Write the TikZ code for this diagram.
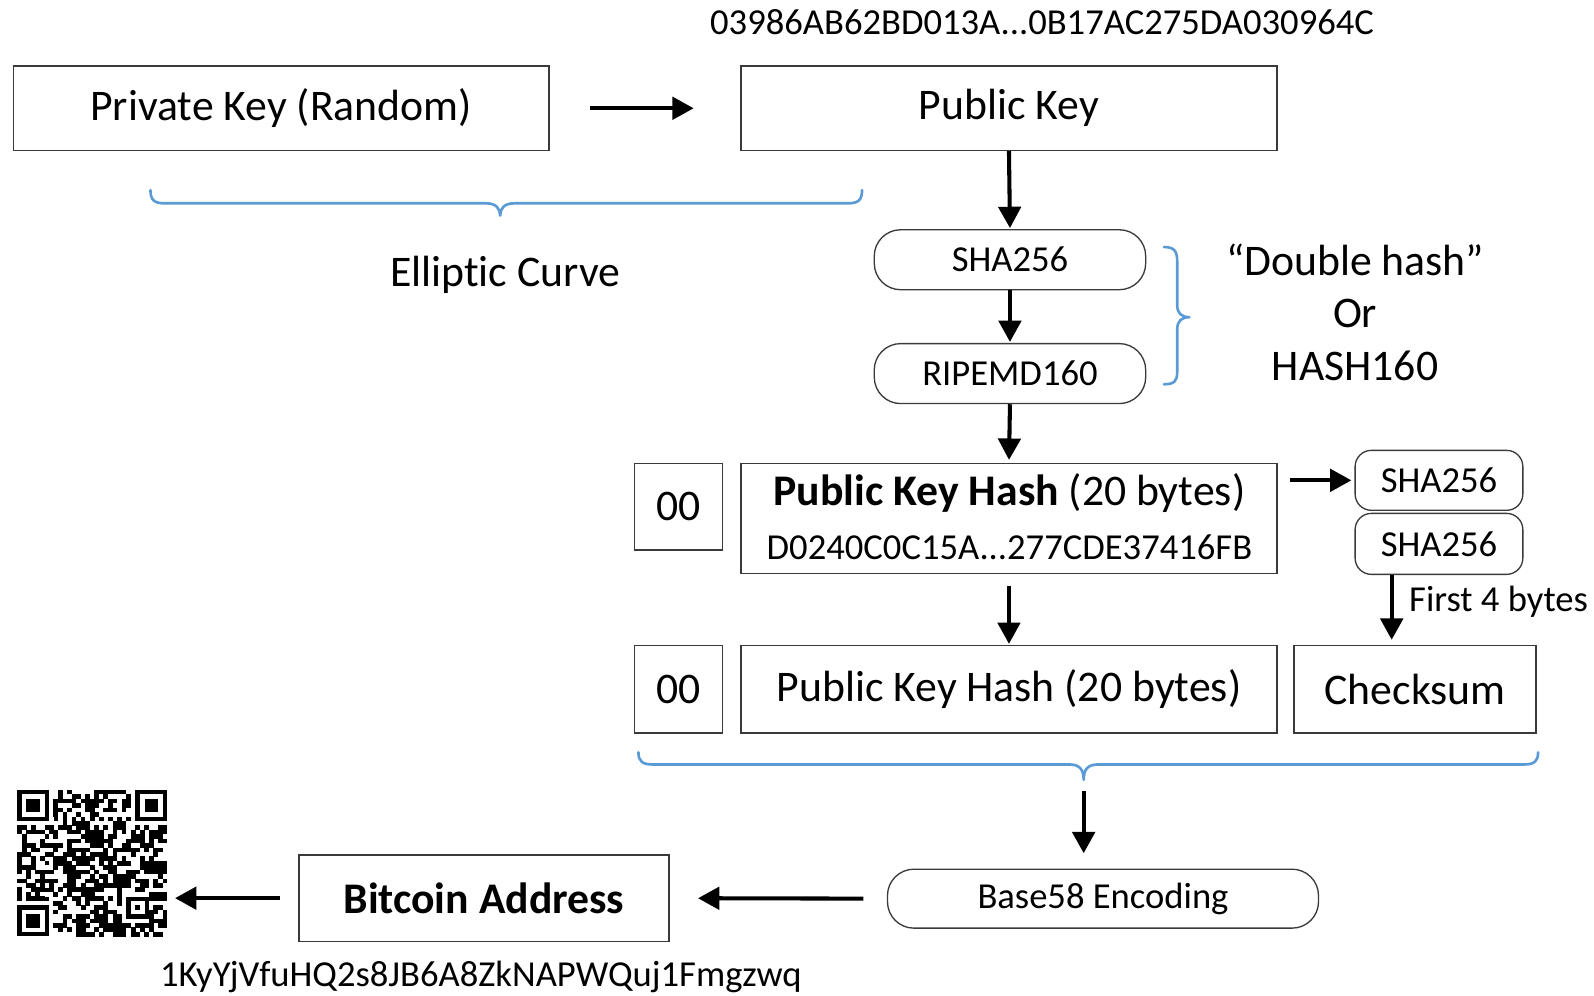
\documentclass[tikz,border=0pt]{standalone}
\usepackage{fontspec}
\setmainfont{Carlito}[Ligatures=NoCommon]
\usetikzlibrary{arrows.meta,calc}
\definecolor{boxline}{HTML}{3A3A3A}
\definecolor{braceblue}{HTML}{5B9BD5}
\begin{document}
\begin{tikzpicture}[x=1pt,y=-1pt,
  big/.style={font=\fontsize{43}{52}\selectfont},
  small/.style={font=\fontsize{36}{43}\selectfont},
  plainbox/.style={draw=boxline,line width=1.3pt,fill=white,inner sep=0pt},
  roundbox/.style={plainbox,rounded corners=26pt},
  pillbox/.style={plainbox,rounded corners=16pt},
  arr/.style={line width=4pt,-{Triangle[length=21pt,width=22pt]}},
  brace/.style={draw=braceblue,line width=2.6pt,line cap=round,line join=round},
  label/.style={inner sep=0pt}]

\useasboundingbox[fill=white] (0,0) rectangle (1568,979);

% key generation row
\node[label,small] (hexpub) at (1025,22) {03986AB62BD013A...0B17AC275DA030964C};
\node[plainbox,big,minimum width=527pt,minimum height=83pt] (priv) at (276.5,106.5) {Private Key (Random)};
\node[plainbox,big,minimum width=527pt,minimum height=83pt] (pub) at (992.5,106.5) {Public Key};

% elliptic curve brace
\draw[brace] (148,187) .. controls (148,197) and (152,200) .. (162,200) -- (478,200)
  .. controls (488,200) and (492,205) .. (492,212)
  .. controls (492,205) and (496,200) .. (506,200) -- (834,200)
  .. controls (844,200) and (848,197) .. (848,187);
\node[label,big] (ec) at (497,270) {Elliptic Curve};

% hashing steps
\node[roundbox,small,minimum width=267pt,minimum height=59pt] (sha1) at (993.5,255.5) {SHA256};
\node[roundbox,small,minimum width=267pt,minimum height=59pt] (rip) at (993.5,367.5) {RIPEMD160};
\draw[brace] (1145,243) .. controls (1155,243) and (1158,247) .. (1158,257) -- (1158,300)
  .. controls (1158,308) and (1162,312) .. (1170,312)
  .. controls (1162,312) and (1158,316) .. (1158,324) -- (1158,366)
  .. controls (1158,375) and (1155,378) .. (1145,378);
\node[label,align=center,font=\fontsize{43}{51.5}\selectfont] (dh) at (1333,307) {“Double hash”\\Or\\HASH160};

% public key hash row
\node[plainbox,big,minimum width=87pt,minimum height=85pt] (ver1) at (667.5,498.5) {00};
\node[plainbox,minimum width=527pt,minimum height=108pt] (pkh) at (992.5,510) {};
\node[label,big] (pkhtitle) at (993,485) {\textbf{Public Key Hash} (20 bytes)};
\node[label,small] (pkhhex) at (993,538) {D0240C0C15A...277CDE37416FB};
\node[pillbox,small,minimum width=165pt,minimum height=59pt] (shaA) at (1415.5,472.5) {SHA256};
\node[pillbox,small,minimum width=165pt,minimum height=60pt] (shaB) at (1415.5,535) {SHA256};

% payload row
\node[plainbox,big,minimum width=87pt,minimum height=86pt] (ver2) at (667.5,678) {00};
\node[plainbox,big,minimum width=527pt,minimum height=86pt] (pkh2) at (992.5,678) {Public Key Hash (20 bytes)};
\node[plainbox,big,minimum width=238pt,minimum height=86pt] (check) at (1392,678) {Checksum};
\coordinate (fourx) at (1369,0);
\node[label,small,anchor=west] (four) at (1386,592) {First 4 bytes};

% payload brace
\draw[brace] (628,740) .. controls (628,749) and (632,752) .. (642,752) -- (1052,752)
  .. controls (1062,752) and (1066,757) .. (1066,767)
  .. controls (1066,757) and (1070,752) .. (1080,752) -- (1499,752)
  .. controls (1509,752) and (1513,749) .. (1513,740);
\coordinate (tip) at (1066,767);

% encoding and address
\node[roundbox,small,minimum width=424pt,minimum height=58pt] (b58) at (1085,884) {Base58 Encoding};
\node[plainbox,big,minimum width=364pt,minimum height=85pt] (addr) at (476,883.5) {\textbf{Bitcoin Address}};
\node[label,small] (addrtxt) at (473,961) {1KyYjVfuHQ2s8JB6A8ZkNAPWQuj1Fmgzwq};
\node[inner sep=0pt,minimum width=148pt,minimum height=144pt] (qr) at (91,849) {};

% QR code of the address
\begin{scope}[shift={(17,777)},x=4.47pt,y=-4.37pt]
  \pgfmathsetseed{4711}
  \foreach \i in {0,...,32}{
    \foreach \j in {0,...,32}{
      \pgfmathtruncatemacro\reserved{((\i<8)&&(\j<8))||((\i>24)&&(\j<8))||((\i<8)&&(\j>24))||((\i>22)&&(\i<29)&&(\j>22)&&(\j<29))||(\i==6)||(\j==6)}
      \ifnum\reserved=0
        \pgfmathrandominteger{\bit}{0}{99}
        \ifnum\bit<55 \fill[black] (\i-0.03,\j-0.03) rectangle ++(1.06,1.06);\fi
      \fi
    }
  }
  \foreach \cx/\cy in {0/0,26/0,0/26}{
    \fill[black] (\cx,\cy) rectangle ++(7,7);
    \fill[white] (\cx+1,\cy+1) rectangle ++(5,5);
    \fill[black] (\cx+2,\cy+2) rectangle ++(3,3);
  }
  \foreach \k in {8,10,...,24}{
    \fill[black] (\k,6) rectangle ++(1,1);
    \fill[black] (6,\k) rectangle ++(1,1);
  }
  \fill[black] (24,24) rectangle ++(5,5);
  \fill[white] (25,25) rectangle ++(3,3);
  \fill[black] (26,26) rectangle ++(1,1);
\end{scope}

% connectors
\draw[arr,shorten <=40pt,shorten >=46pt] (priv.east) -- (pub.west);
\draw[arr,shorten >=1pt] (pub.south) -- (sha1.north);
\draw[arr,shorten >=1pt] (sha1.south) -- (rip.north);
\draw[arr,shorten >=3pt] (rip.south) -- (pkh.north);
\draw[arr,shorten <=12pt,shorten >=3pt] (pkh.east |- shaA.west) -- (shaA.west);
\draw[arr,shorten >=5pt] (shaB.south -| fourx) -- (check.north -| fourx);
\draw[arr,shorten <=12pt,shorten >=1pt] (pkh.south) -- (pkh2.north);
\draw[arr,shorten <=11pt,shorten >=15pt] (tip) -- (tip |- b58.north);
\draw[arr,shorten <=23pt,shorten >=28pt] (b58.west) -- (addr.east);
\draw[arr,shorten <=18pt,shorten >=7pt] (addr.west) -- (addr.west -| qr.east);
\end{tikzpicture}
\end{document}
